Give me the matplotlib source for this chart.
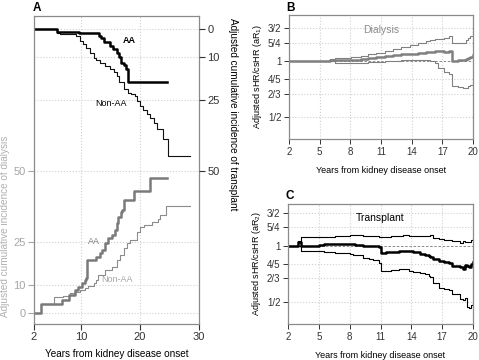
import matplotlib
matplotlib.use('Agg')
import matplotlib.pyplot as plt
from matplotlib.ticker import NullLocator

plt.rcParams['font.family'] = ['Liberation Sans', 'DejaVu Sans']
plt.rcParams['mathtext.default'] = 'regular'

# ---------------- data ----------------
# Panel A: adjusted cumulative incidence (%) -- step functions
tx_aa_t = [2, 5.9, 9.7, 13.1, 13.4, 13.9, 14.9, 15.4, 16.0, 16.4, 16.8, 17.2, 17.6, 18.0, 24.5]
tx_aa_v = [0, 0.9, 1.5, 2.4, 3.2, 4.6, 5.8, 7.2, 8.4, 10.0, 11.8, 12.8, 14.0, 18.5, 18.5]

tx_non_t = [2, 5.9, 6.4, 8.1, 9.1, 9.8, 10.3, 10.9, 11.5, 12.1, 12.6, 13.2, 14.0, 14.9, 15.5,
            16.0, 16.5, 17.2, 18.0, 18.5, 19.1, 19.5, 20.0, 20.5, 21.1, 21.7, 22.3, 22.8,
            23.85, 24.8, 28.4]
tx_non_v = [0, 1.3, 1.65, 1.9, 2.5, 4.2, 5.3, 6.6, 8.3, 10.1, 11.0, 11.9, 13.0, 14.2, 15.3,
            16.5, 18.5, 21.2, 22.4, 22.8, 23.6, 25.5, 27.1, 28.5, 30.0, 31.5, 33.0, 35.3,
            38.8, 44.7, 44.7]

dx_aa_t = [2, 3.2, 6.8, 8.0, 9.0, 9.5, 10.1, 10.7, 10.9, 11.05, 12.5, 13.2, 13.5, 14.1, 14.6,
           15.2, 15.75, 16.0, 16.3, 16.7, 17.0, 17.3, 19.0, 21.7, 24.5]
dx_aa_v = [0, 3.1, 4.7, 6.3, 8.1, 9.3, 10.4, 11.6, 12.2, 18.7, 19.8, 21.0, 22.2, 24.5, 26.3,
           27.5, 29.2, 31.6, 33.9, 35.7, 36.3, 39.8, 43.0, 47.5, 47.5]

dx_non_t = [2, 3.2, 5.4, 6.9, 8.1, 9.0, 9.8, 10.7, 11.2, 12.2, 12.6, 12.9, 14.1, 15.2, 16.0,
            16.6, 17.2, 17.7, 18.3, 19.4, 20.0, 20.6, 22.0, 23.1, 23.4, 24.35, 28.5]
dx_non_v = [0, 3.1, 5.5, 6.0, 6.9, 7.5, 8.1, 8.7, 9.5, 10.5, 11.6, 13.4, 15.1, 16.3, 18.7,
            20.4, 22.8, 24.5, 25.7, 28.6, 30.4, 31.0, 32.1, 33.0, 34.5, 37.8, 37.8]

# Panel B: dialysis aR1 (estimate, lower, upper)
b_t = [2, 5.5, 6.0, 6.5, 8.1, 9.0, 9.7, 10.5, 11.4, 12.2, 13.0, 13.8, 14.6, 15.4, 15.8, 16.3,
       16.6, 17.2, 17.7, 17.9, 18.5, 19.0, 19.3, 19.5, 19.7, 20.0]
b_est = [1.0, 1.0, 1.01, 1.01, 1.02, 1.03, 1.04, 1.05, 1.064, 1.08, 1.094, 1.10, 1.11, 1.12, 1.125, 1.13,
         1.13, 1.12, 1.13, 1.0, 1.01, 1.02, 1.03, 1.04, 1.05, 1.085]
b_lo = [1.0, 1.0, 1.0, 0.975, 0.975, 0.98, 0.985, 0.995, 1.0, 1.005, 1.01, 1.015, 1.015, 1.01, 1.0, 0.98,
        0.92, 0.88, 0.85, 0.74, 0.73, 0.72, 0.72, 0.735, 0.75, 0.77]
b_hi = [1.0, 1.0, 1.03, 1.04, 1.06, 1.07, 1.09, 1.11, 1.13, 1.16, 1.19, 1.22, 1.25, 1.28, 1.30, 1.31,
        1.32, 1.34, 1.37, 1.25, 1.25, 1.26, 1.30, 1.33, 1.37, 1.43]

# Panel C: transplant aR2 (estimate, lower, upper)
c_t = [2, 3.0, 3.3, 5.0, 5.5, 6.6, 8.0, 8.3, 8.5, 9.3, 9.9, 10.3, 10.9, 11.0, 11.5, 12.0, 12.8,
       13.2, 13.8, 14.2, 14.8, 15.3, 15.7, 15.8, 16.1, 16.7, 17.2, 17.7, 18.0, 18.7, 19.0, 19.2,
       19.4, 19.6, 19.8, 20.0]
c_est = [1.0, 1.04, 1.0, 1.01, 1.025, 1.025, 1.025, 1.02, 1.01, 1.0, 0.995, 0.99, 0.98, 0.915, 0.92,
         0.925, 0.94, 0.94, 0.935, 0.92, 0.90, 0.89, 0.875, 0.87, 0.85, 0.83, 0.82, 0.81, 0.78, 0.77,
         0.745, 0.79, 0.775, 0.77, 0.80, 0.82]
c_lo = [1.0, 1.0, 0.94, 0.93, 0.925, 0.914, 0.90, 0.895, 0.89, 0.86, 0.85, 0.84, 0.81, 0.73, 0.735,
        0.74, 0.75, 0.745, 0.73, 0.72, 0.71, 0.70, 0.685, 0.68, 0.63, 0.595, 0.585, 0.575, 0.55, 0.52,
        0.51, 0.525, 0.47, 0.463, 0.48, 0.49]
c_hi = [1.0, 1.06, 1.11, 1.11, 1.115, 1.125, 1.135, 1.14, 1.14, 1.13, 1.125, 1.12, 1.115, 1.115, 1.115,
        1.12, 1.13, 1.14, 1.13, 1.12, 1.12, 1.12, 1.125, 1.146, 1.10, 1.09, 1.077, 1.07, 1.064, 1.034,
        1.056, 1.05, 1.05, 1.05, 1.07, 1.10]

a_xticks = [2, 10, 20, 30]
a_dx_ticks = [0, 10, 25, 50]
a_tx_ticks = [0, 10, 25, 50]
bc_xticks = [2, 5, 8, 11, 14, 17, 20]
bc_yticks = [1.5, 1.25, 1.0, 0.8, 2 / 3, 0.5]
bc_ylabels = ['3/2', '5/4', '1', '4/5', '2/3', '1/2']

# ---------------- layout ----------------
W, H = 479, 360
fig = plt.figure(figsize=(W / 100, H / 100), dpi=100)


def rect(l, t, r, b):
    return [l / W, 1 - b / H, (r - l) / W, (b - t) / H]


SPINE = '#8a8a8a'
GRID = '#d0d0d0'
DGREY = '#7f7f7f'
LGREY = '#a6a6a6'

# ---------------- Panel A ----------------
axA = fig.add_axes(rect(34, 16, 199, 324))
axA.set_xlim(2, 30)
axA.set_ylim(-3.9, 104.6)
axA.set_xticks(a_xticks)
axA.set_yticks(a_dx_ticks)
axA.set_yticklabels([str(v) for v in a_dx_ticks])
axA.tick_params(axis='y', colors=LGREY, labelcolor=LGREY, labelsize=8, length=4, width=0.8, pad=2)
axA.tick_params(axis='x', colors='#333333', labelsize=8, length=4, width=0.8, pad=2)
for s in axA.spines.values():
    s.set_color(SPINE)
    s.set_linewidth(0.9)
for xv in a_xticks[1:-1]:
    axA.axvline(xv, color=GRID, ls=':', lw=0.8, zorder=0)
for yv in a_dx_ticks:
    axA.axhline(yv, color=GRID, ls=':', lw=0.8, zorder=0)
for tv in a_tx_ticks[:-1]:
    axA.axhline(100 - tv, color=GRID, ls=':', lw=0.8, zorder=0)

axA.step(tx_non_t, [100 - v for v in tx_non_v], where='post', color='#111111', lw=0.8)
axA.step(tx_aa_t, [100 - v for v in tx_aa_v], where='post', color='black', lw=1.8)
axA.step(dx_non_t, dx_non_v, where='post', color='#8c8c8c', lw=0.8)
axA.step(dx_aa_t, dx_aa_v, where='post', color='#7a7a7a', lw=1.8)

axA.text(18.1, 100 - 4.2, 'AA', fontsize=6.5, fontweight='bold', ha='center', va='center')
axA.text(15.1, 100 - 26.4, 'Non-AA', fontsize=6.5, ha='center', va='center')
axA.text(12.1, 25.1, 'AA', fontsize=6.5, color=DGREY, ha='center', va='center')
axA.text(16.1, 11.9, 'Non-AA', fontsize=6.5, color=LGREY, ha='center', va='center')
axA.set_xlabel('Years from kidney disease onset', fontsize=7.2, labelpad=5)

axA2 = axA.twinx()
axA2.set_ylim(axA.get_ylim())
axA2.set_yticks([100 - v for v in a_tx_ticks])
axA2.set_yticklabels([str(v) for v in a_tx_ticks])
axA2.tick_params(axis='y', colors='#333333', labelsize=8, length=4, width=0.8, pad=2)
for s in axA2.spines.values():
    s.set_visible(False)

fig.text(5 / W, 1 - 226 / H, 'Adjusted cumulative incidence of dialysis', rotation=90,
         fontsize=7.2, color='#b0b0b0', ha='center', va='center')
fig.text(233 / W, 1 - 114 / H, 'Adjusted cumulative incidence of transplant', rotation=270,
         fontsize=7.2, color='black', ha='center', va='center')
fig.text(33 / W, 1 - 8 / H, 'A', fontsize=8.5, fontweight='bold', ha='left', va='center')


# ---------------- Panels B and C ----------------
def ratio_panel(box, ylim, t, est, lo, hi, color, label, ylabel_sub, tcolor):
    ax = fig.add_axes(rect(*box))
    ax.set_yscale('log')
    ax.set_xlim(2, 20)
    ax.set_ylim(*ylim)
    ax.set_xticks(bc_xticks)
    ax.set_yticks(bc_yticks)
    ax.set_yticklabels(bc_ylabels)
    ax.yaxis.set_minor_locator(NullLocator())
    ax.tick_params(labelsize=7, length=3.5, width=0.7, pad=2, colors='#333333')
    for s in ax.spines.values():
        s.set_color(SPINE)
        s.set_linewidth(0.9)
    for xv in bc_xticks[1:-1]:
        ax.axvline(xv, color=GRID, ls=':', lw=0.8, zorder=0)
    for yv in bc_yticks:
        if yv != 1.0:
            ax.axhline(yv, color=GRID, ls=':', lw=0.8, zorder=0)
    ax.axhline(1.0, color='#777777', ls='--', lw=0.6, dashes=(3, 2), zorder=1)
    ax.step(t, hi, where='post', color=color, lw=0.8)
    ax.step(t, lo, where='post', color=color, lw=0.8)
    ax.step(t, est, where='post', color=color, lw=1.8)
    ax.text(0.5, 0.88, label, transform=ax.transAxes, fontsize=7.5, color=tcolor,
            ha='center', va='center')
    ax.set_ylabel('Adjusted sHR/csHR (aR$_%s$)' % ylabel_sub, fontsize=6.5, labelpad=3)
    ax.set_xlabel('Years from kidney disease onset', fontsize=6.5, labelpad=7)
    return ax


axB = ratio_panel((289, 15, 473, 139), (0.383, 1.77), b_t, b_est, b_lo, b_hi,
                  '#808080', 'Dialysis', '1', '#8c8c8c')
axC = ratio_panel((288, 204, 473, 324), (0.38, 1.67), c_t, c_est, c_lo, c_hi,
                  'black', 'Transplant', '2', 'black')
fig.text(286 / W, 1 - 8 / H, 'B', fontsize=8.5, fontweight='bold', ha='left', va='center')
fig.text(286 / W, 1 - 196 / H, 'C', fontsize=8.5, fontweight='bold', ha='left', va='center')

fig.savefig('out.png', dpi=100)
